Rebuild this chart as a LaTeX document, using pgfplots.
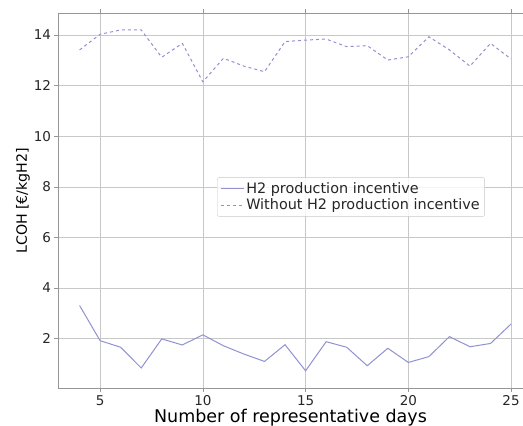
\documentclass[border=0pt]{standalone}
\usepackage{fontspec}
\setmainfont{DejaVu Sans}
\usepackage{pgfplots}
\pgfplotsset{compat=1.18}
\definecolor{linec}{RGB}{145,145,210}
\definecolor{gridc}{RGB}{200,200,200}
\definecolor{spinec}{RGB}{150,150,150}

\begin{document}
\begin{tikzpicture}[x=1pt,y=1pt]
\begin{axis}[
  scale only axis,
  width=465pt, height=375.5pt,
  xmin=2.95, xmax=25.58,
  ymin=0.03, ymax=14.87,
  axis y line*=left,
  xtick={5,10,15,20,25},
  ytick={2,4,6,8,10,12,14},
  grid=major,
  grid style={gridc, line width=0.6pt},
  axis line style={spinec, line width=0.8pt},
  tick style={spinec, line width=0.6pt},
  tick align=outside,
  major tick length=3.5pt,
  tick label style={font=\fontsize{13.5}{15}\selectfont, text=black!85},
  /pgf/number format/assume math mode=true,
  xlabel={Number of representative days},
  ylabel={LCOH [€/kgH2]},
  xlabel style={font=\fontsize{17.5}{19}\selectfont, yshift=3pt},
  ylabel style={font=\fontsize{14.2}{16}\selectfont, yshift=-3pt},
  legend style={at={(0.63,0.51)}, anchor=center, draw=gridc, rounded corners=2pt,
    font=\fontsize{14.4}{17.5}\selectfont, text=black!85, fill=white, fill opacity=0.8, text opacity=1,
    inner sep=3pt},
  legend cell align=left,
  legend image post style={xscale=1.35},
]
\addplot[linec, line width=1pt] coordinates {
(4,3.31) (5,1.92) (6,1.66) (7,0.84) (8,1.99) (9,1.75) (10,2.15) (11,1.72)
(12,1.39) (13,1.10) (14,1.76) (15,0.73) (16,1.88) (17,1.66) (18,0.93)
(19,1.62) (20,1.06) (21,1.29) (22,2.08) (23,1.68) (24,1.81) (25,2.58)
};
\addplot[linec, line width=1pt, dashed] coordinates {
(4,13.41) (5,14.03) (6,14.20) (7,14.20) (8,13.12) (9,13.67) (10,12.15) (11,13.08)
(12,12.77) (13,12.55) (14,13.74) (15,13.80) (16,13.84) (17,13.54) (18,13.58)
(19,13.01) (20,13.14) (21,13.93) (22,13.41) (23,12.77) (24,13.67) (25,13.05)
};
\legend{H2 production incentive, Without H2 production incentive}
\end{axis}
\pgfresetboundingbox
\useasboundingbox ([shift={(-58pt,-37.5pt)}]current axis.south west) rectangle ([shift={(0pt,13pt)}]current axis.north east);
\end{tikzpicture}
\end{document}
